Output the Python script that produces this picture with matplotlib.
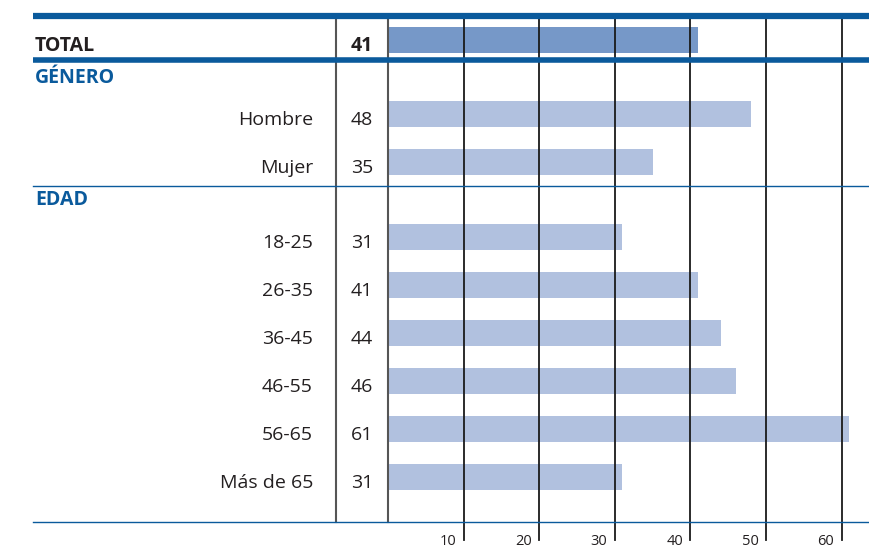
import numpy as np
import matplotlib.pyplot as plt

plt.rcParams['font.family'] = ['Open Sans', 'DejaVu Sans']

# data
labels = ['TOTAL', 'Hombre', 'Mujer', '18-25', '26-35', '36-45', '46-55', '56-65', 'Más de 65']
values = [41, 48, 35, 31, 41, 44, 46, 61, 31]
sections = ['GÉNERO', 'EDAD']
ticks = [10, 20, 30, 40, 50, 60]

# layout (pixels, y from top)
W, H = 870, 551
x0 = 388          # pixel of value 0
scale = 7.56      # pixels per unit
rows_y = [40, 114, 162, 237, 285, 333, 381, 429, 477]
section_y = [78, 200]

fig = plt.figure(figsize=(W / 100, H / 100), dpi=100)
ax = fig.add_axes([0, 0, 1, 1])
ax.set_xlim(-x0 / scale, (W - x0) / scale)
ax.set_ylim(H, 0)
ax.axis('off')

def px(p):
    # pixel x -> data x
    return (p - x0) / scale

blue = '#0a5a9c'
text_c = '#231f20'
fs = 14

# bars
colors = ['#7698c8'] + ['#b1c1df'] * (len(values) - 1)
ax.barh(rows_y, values, height=26, left=0, color=colors, zorder=1)

# grid lines
for t in ticks:
    ax.plot([t, t], [15, 540], color='#1a1a1a', lw=1.3, zorder=3)
ax.plot([0, 0], [15, 522], color='#555555', lw=1.5, zorder=3)
ax.plot([px(336), px(336)], [15, 522], color='#555555', lw=1.5, zorder=3)

# horizontal rules
ax.plot([px(33), px(870)], [16, 16], color=blue, lw=4.5, solid_capstyle='butt', zorder=4)
ax.plot([px(33), px(870)], [60, 60], color=blue, lw=4, solid_capstyle='butt', zorder=4)
ax.plot([px(33), px(870)], [186, 186], color=blue, lw=1, zorder=4)
ax.plot([px(33), px(870)], [522, 522], color=blue, lw=1, zorder=4)

# row labels and values
for i, (lab, v, y) in enumerate(zip(labels, values, rows_y)):
    if i == 0:
        ax.text(px(35), y + 6, lab, ha='left', va='center', fontsize=fs,
                fontweight='bold', color=text_c)
        ax.text(px(362), y + 6, str(v), ha='center', va='center', fontsize=fs,
                fontweight='bold', color=text_c)
    else:
        ax.text(px(313), y + 6, lab, ha='right', va='center', fontsize=fs,
                color=text_c)
        ax.text(px(362), y + 6, str(v), ha='center', va='center', fontsize=fs,
                color=text_c)

for s, y in zip(sections, section_y):
    ax.text(px(35), y, s, ha='left', va='center', fontsize=fs,
            fontweight='bold', color=blue)

# tick labels
for t in ticks:
    ax.text(t - 2.1, 549, str(t), ha='center', va='bottom', fontsize=10.5, color=text_c)

fig.savefig('out.png', dpi=100)
